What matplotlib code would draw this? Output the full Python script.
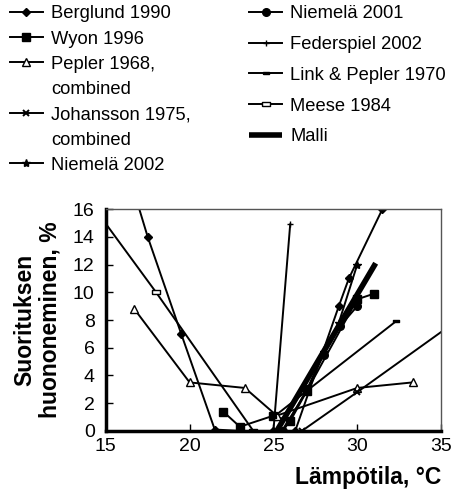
"""Performance decrement vs. room temperature, several studies and the model."""

import matplotlib
matplotlib.use("Agg")
import matplotlib.pyplot as plt
from matplotlib.lines import Line2D

plt.rcParams["font.family"] = ["Liberation Sans", "DejaVu Sans"]

# data
berglund_x = [16.5, 17.5, 19.5, 21.5, 23.0, 25.0, 26.3, 28.9, 29.5, 31.5]
berglund_y = [18.0, 14.0, 7.0, 0.1, 0.0, 0.0, 0.0, 9.0, 11.0, 16.0]

wyon_x = [22.0, 23.0, 25.0, 26.0, 27.0, 30.0, 31.0]
wyon_y = [1.4, 0.3, 1.1, 0.7, 2.9, 9.5, 9.9]

pepler_x = [16.7, 20.0, 23.3, 25.2, 30.0, 33.3]
pepler_y = [8.8, 3.5, 3.1, 1.1, 3.1, 3.5]

johansson_x = [26.7, 30.0, 36.0]
johansson_y = [0.0, 2.8, 8.0]

niemela02_x = [25.5, 27.0, 28.0, 28.9, 30.0]
niemela02_y = [0.0, 2.9, 5.7, 7.8, 12.0]

niemela01_x = [25.6, 27.0, 28.0, 29.0, 30.0]
niemela01_y = [0.0, 3.0, 5.5, 7.6, 9.0]

federspiel_x = [25.0, 26.0]
federspiel_y = [0.0, 14.9]

link_x = [25.0, 27.0, 32.3]
link_y = [1.0, 2.9, 7.9]

meese_x = [14.0, 18.0, 23.8]
meese_y = [16.6, 10.0, 0.0]

malli_x = [25.2, 31.1]
malli_y = [0.0, 12.1]

rect_marker = [(-1, -0.4), (1, -0.4), (1, 0.4), (-1, 0.4), (-1, -0.4)]


def main():
    fig = plt.figure(figsize=(4.58, 5.04), dpi=100)
    ax = fig.add_axes([0.231, 0.145, 0.732, 0.44])

    lw = 1.4
    k = "black"
    berglund, = ax.plot(berglund_x, berglund_y, color=k, lw=lw, marker="D",
                        ms=4)
    wyon, = ax.plot(wyon_x, wyon_y, color=k, lw=lw, marker="s", ms=6)
    pepler, = ax.plot(pepler_x, pepler_y, color=k, lw=lw, marker="^", ms=6,
                      mfc="white")
    johansson, = ax.plot(johansson_x, johansson_y, color=k, lw=lw,
                         marker="x", ms=5, mew=1.4)
    niemela02, = ax.plot(niemela02_x, niemela02_y, color=k, lw=lw,
                         marker="*", ms=6)
    niemela01, = ax.plot(niemela01_x, niemela01_y, color=k, lw=lw,
                         marker="o", ms=5.5)
    federspiel, = ax.plot(federspiel_x, federspiel_y, color=k, lw=lw,
                          marker="+", ms=5)
    link, = ax.plot(link_x, link_y, color=k, lw=lw, marker=rect_marker, ms=5)
    meese, = ax.plot(meese_x, meese_y, color=k, lw=lw, marker=rect_marker,
                     ms=6, mfc="white", mew=1)
    malli, = ax.plot(malli_x, malli_y, color=k, lw=4, solid_capstyle="butt")

    ax.set_xlim(15, 35)
    ax.set_ylim(0, 16)
    ax.set_xticks(range(15, 36, 5))
    ax.set_yticks(range(0, 17, 2))
    ax.tick_params(direction="in", length=5, width=1, labelsize=14)
    ax.tick_params(axis="y", pad=8)
    ax.tick_params(axis="x", pad=5)

    for side in ("left", "bottom"):
        ax.spines[side].set_linewidth(2.5)
    for side in ("top", "right"):
        ax.spines[side].set_linewidth(1)
        ax.spines[side].set_color("#555555")

    ax.set_xlabel("Lämpötila, °C", fontsize=16.5, fontweight="bold",
                  loc="right", labelpad=8)
    ax.set_ylabel("Suorituksen\nhuononeminen, %", fontsize=16.5,
                  fontweight="bold", linespacing=1.15, labelpad=8)

    # two legend columns; second text lines get an empty handle
    blank = Line2D([], [], linestyle="none")
    opts = dict(loc="upper left", frameon=False, fontsize=13.2,
                handlelength=1.8, handletextpad=0.45, borderaxespad=0)
    fig.legend([berglund, wyon, pepler, blank, johansson, blank, niemela02],
               ["Berglund 1990", "Wyon 1996", "Pepler 1968,", "combined",
                "Johansson 1975,", "combined", "Niemelä 2002"],
               bbox_to_anchor=(0.005, 1.004), labelspacing=0.45, **opts)
    fig.legend([niemela01, federspiel, link, meese, malli],
               ["Niemelä 2001", "Federspiel 2002", "Link & Pepler 1970",
                "Meese 1984", "Malli"],
               bbox_to_anchor=(0.528, 1.004), labelspacing=0.75, **opts)

    fig.savefig("out.png", dpi=100)


if __name__ == "__main__":
    main()
